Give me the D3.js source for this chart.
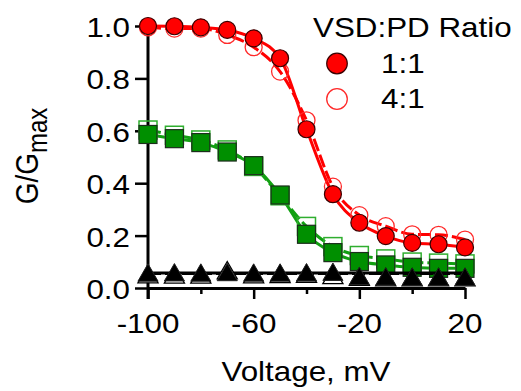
<!DOCTYPE html>
<html><head><meta charset="utf-8">
<script src="https://cdn.jsdelivr.net/npm/d3@7"></script>
<style>html,body{margin:0;padding:0;background:#fff;}svg{display:block;}</style>
</head><body>
<script>
const voltage = [-100,-90,-80,-70,-60,-50,-40,-30,-20,-10,0,10,20];
const red11   = [1.000,0.999,0.995,0.985,0.953,0.877,0.606,0.358,0.249,0.198,0.172,0.167,0.155];
const red41   = [0.995,0.990,0.990,0.966,0.919,0.826,0.640,0.387,0.278,0.236,0.205,0.203,0.185];
const green11 = [0.586,0.570,0.555,0.519,0.467,0.355,0.205,0.135,0.101,0.088,0.079,0.075,0.075];
const green41 = [0.603,0.583,0.565,0.527,0.464,0.352,0.235,0.158,0.124,0.111,0.099,0.095,0.092];
const black11 = [0.048,0.049,0.048,0.050,0.048,0.048,0.049,0.051,0.035,0.033,0.032,0.032,0.032];
const black41 = [0.042,0.041,0.041,0.057,0.042,0.043,0.044,0.039,0.032,0.030,0.030,0.030,0.030];
const blackFitV = [-100,20];
const blackFit11 = [0.057,0.057];
const blackFit41 = [0.055,0.055];
const xMajor = [-100,-60,-20,20];
const xMinor = [-80,-40,0];
const yTicks = [0,0.2,0.4,0.6,0.8,1.0];
const legendTitle = "VSD:PD Ratio";
const legendLabels = ["1:1","4:1"];

const W=521,H=391, SX=1.12, FONT="Arial, 'Liberation Sans', sans-serif";
const svg=d3.select("body").append("svg").attr("width",W).attr("height",H);
const x=d3.scaleLinear().domain([-100,20]).range([148,465]);
const y=d3.scaleLinear().domain([0,1]).range([288,26]);

// axes
const gx=svg.append("g").attr("transform","translate(0,288)");
gx.call(d3.axisBottom(x).tickValues(xMajor).tickSize(11).tickSizeOuter(0).tickFormat(""));
const gx2=svg.append("g").attr("transform","translate(0,288)");
gx2.call(d3.axisBottom(x).tickValues(xMinor).tickSize(6).tickSizeOuter(0).tickFormat(""));
gx2.select(".domain").remove();
const gy=svg.append("g").attr("transform","translate(148,0)");
gy.call(d3.axisLeft(y).tickValues(yTicks).tickSize(13).tickSizeOuter(0).tickFormat(""));
svg.selectAll(".domain").attr("stroke","#000").attr("stroke-width",3);
svg.selectAll(".tick line").attr("stroke","#000").attr("stroke-width",2.5);
gy.select(".domain").attr("d","M0,"+(y(1)-1.5)+"V"+(y(0)+11));

// tick labels
xMajor.forEach(v=>{
  svg.append("text").attr("transform",`translate(${x(v)},333) scale(${SX},1)`)
    .attr("text-anchor","middle").attr("font-family",FONT).attr("font-size",28).text(String(v).replace("-","-"));
});
yTicks.forEach(v=>{
  svg.append("text").attr("transform",`translate(130,${y(v)+11}) scale(${SX},1)`)
    .attr("text-anchor","end").attr("font-family",FONT).attr("font-size",28).text(d3.format(".1f")(v));
});
// axis titles
svg.append("text").attr("transform",`translate(306,381) scale(${SX},1)`)
  .attr("text-anchor","middle").attr("font-family",FONT).attr("font-size",28).text("Voltage, mV");
const yl=svg.append("text").attr("transform",`translate(38,156) scale(${SX},1) rotate(-90)`)
  .attr("text-anchor","middle").attr("font-family",FONT).attr("font-size",28);
yl.append("tspan").text("G/G");
yl.append("tspan").attr("dy",8).attr("font-size",24).text("max");

const pts=(arr)=>voltage.map((v,i)=>[x(v),y(arr[i])]);
const line=d3.line().curve(d3.curveMonotoneX);

function drawLine(arr,color,dash,xs){
  const p = xs ? xs.map((v,i)=>[x(v),y(arr[i])]) : pts(arr);
  svg.append("path").attr("d",line(p)).attr("fill","none").attr("stroke",color)
    .attr("stroke-width",3).attr("stroke-dasharray",dash?"13,4":null);
}
const GREEN_LINE="#12a012", GREEN_FILL="#008f00";
// green
drawLine(green41,GREEN_LINE,true);
drawLine(green11,GREEN_LINE,false);
svg.append("g").selectAll("rect").data(green41).join("rect")
  .attr("x",(d,i)=>x(voltage[i])-9).attr("y",d=>y(d)-9).attr("width",18).attr("height",18)
  .attr("fill","none").attr("stroke","#2fae2f").attr("stroke-width",1.5);
svg.append("g").selectAll("rect").data(green11).join("rect")
  .attr("x",(d,i)=>x(voltage[i])-9).attr("y",d=>y(d)-9).attr("width",18).attr("height",18)
  .attr("fill",GREEN_FILL).attr("stroke","#1c2e1c").attr("stroke-width",1.2);
// red
drawLine(red41,"#ff0000",true);
drawLine(red11,"#ff0000",false);
svg.append("g").selectAll("circle").data(red41).join("circle")
  .attr("cx",(d,i)=>x(voltage[i])).attr("cy",d=>y(d)).attr("r",8.5)
  .attr("fill","none").attr("stroke","#ff2a2a").attr("stroke-width",1.3);
svg.append("g").selectAll("circle").data(red11).join("circle")
  .attr("cx",(d,i)=>x(voltage[i])).attr("cy",d=>y(d)).attr("r",8.5)
  .attr("fill","#ff0000").attr("stroke","#3a0000").attr("stroke-width",1.2);
// black
drawLine(blackFit41,"#000",true,blackFitV);
drawLine(blackFit11,"#000",false,blackFitV);
const tri=d3.symbol().type(d3.symbolTriangle).size(175);
svg.append("g").selectAll("path").data(black41).join("path")
  .attr("transform",(d,i)=>`translate(${x(voltage[i])},${y(d)})`).attr("d",tri)
  .attr("fill","#fff").attr("stroke","#000").attr("stroke-width",1.3);
svg.append("g").selectAll("path").data(black11).join("path")
  .attr("transform",(d,i)=>`translate(${x(voltage[i])},${y(d)})`).attr("d",tri)
  .attr("fill","#000").attr("stroke","#222").attr("stroke-width",1);

// legend
svg.append("text").attr("transform",`translate(313,36.5) scale(${SX},1)`)
  .attr("font-family",FONT).attr("font-size",28).text(legendTitle);
svg.append("circle").attr("cx",337).attr("cy",63.5).attr("r",10.3)
  .attr("fill","#ff0000").attr("stroke","#3a0000").attr("stroke-width",1.2);
svg.append("circle").attr("cx",337).attr("cy",99).attr("r",10.3)
  .attr("fill","none").attr("stroke","#ff2a2a").attr("stroke-width",1.3);
legendLabels.forEach((t,i)=>{
  svg.append("text").attr("transform",`translate(381,${72.7+i*35.6}) scale(${SX},1)`)
    .attr("font-family",FONT).attr("font-size",28).text(t);
});
</script>
</body></html>
